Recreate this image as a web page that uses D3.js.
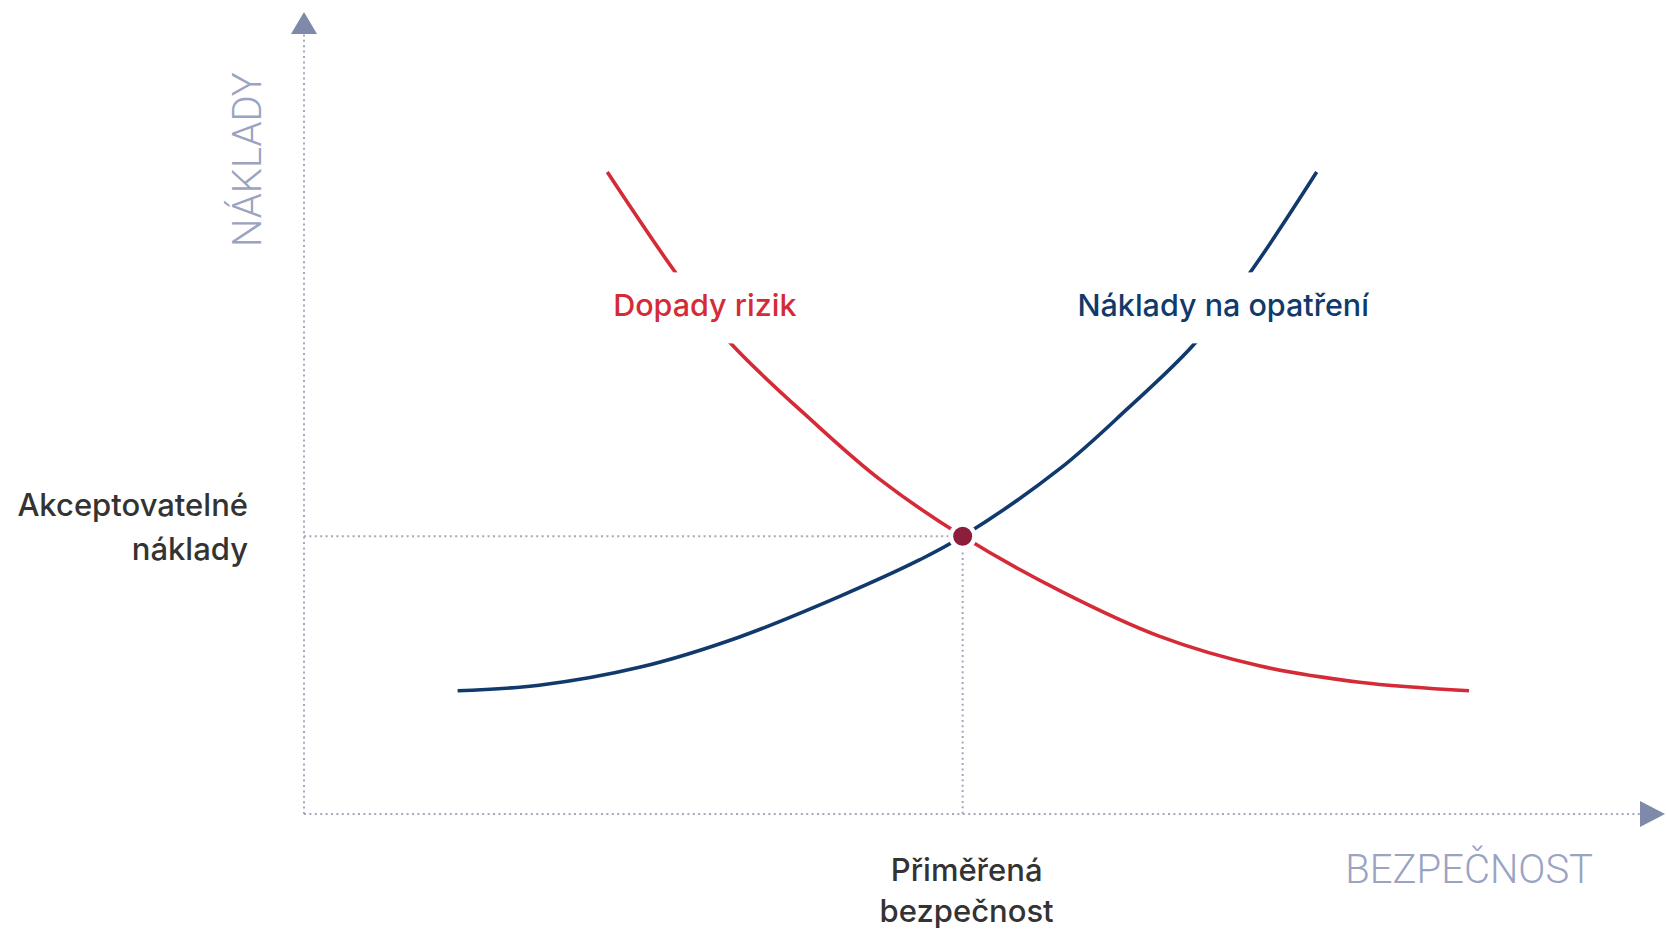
<!DOCTYPE html>
<html>
<head>
<meta charset="utf-8">
<script src="https://cdnjs.cloudflare.com/ajax/libs/d3/7.8.5/d3.min.js"></script>
<style>
  body { margin: 0; background: #fff; }
  svg { display: block; font-family: Inter, Roboto, "Noto Sans", sans-serif; }
</style>
</head>
<body>
<svg class="chart"></svg>
<script>
// curve samples (x = bezpečnost, y = náklady, both 0..100)
var costX = [11.5, 17.6, 25.1, 32.6, 40.1, 46.1, 49.3, 56.6, 61.6, 66.5, 70.6, 75.8];
var costY = [15.8, 16.5, 18.8, 22.7, 27.9, 32.6, 35.6, 44.3, 51.9, 60.0, 68.9, 82.3];

var riskX = [22.7, 27.9, 31.8, 38.1, 43.1, 49.3, 56.6, 64.0, 71.5, 79.0, 87.2];
var riskY = [82.3, 69.2, 60.6, 50.3, 42.9, 35.6, 28.6, 22.8, 19.0, 16.9, 15.8];

var seriesNames = ["Dopady rizik", "Náklady na opatření"];
var labelX = [30.0, 68.8];
var labelY = [63.8, 63.8];

var balance = [49.3, 35.6];
var axisTitles = ["BEZPEČNOST", "NÁKLADY"];
var xTickLabel = ["Přiměřená", "bezpečnost"];
var yTickLabel = ["Akceptovatelné", "náklady"];

function show() {
    'use strict';

    var width = 1666, height = 931;
    var margin = { top: 12, right: 1, bottom: 117, left: 304 };

    var chart = d3.select(".chart")
        .attr("width", width)
        .attr("height", height);

    var red = "#d42b37", blue = "#0f3a6b", axisCol = "#7f89a9", dotCol = "#a3a8ba";

    var x = d3.scaleLinear().domain([0, 100]).range([margin.left, 1640]);
    var y = d3.scaleLinear().domain([0, 100]).range([height - margin.bottom, 34]);

    var x0 = x(0), y0 = y(0);
    var xEnd = width - margin.right, yEnd = margin.top;

    // axes: dotted lines with arrow heads
    chart.append("line")
        .attr("x1", x0).attr("y1", y0).attr("x2", x0).attr("y2", yEnd + 20)
        .attr("stroke", dotCol).attr("stroke-width", 2)
        .attr("stroke-dasharray", "2,3.4");
    chart.append("line")
        .attr("x1", x0).attr("y1", y0).attr("x2", xEnd - 24).attr("y2", y0)
        .attr("stroke", dotCol).attr("stroke-width", 2)
        .attr("stroke-dasharray", "2,3.4");

    chart.append("path")
        .attr("d", "M" + (x0 - 13) + "," + (yEnd + 22) + "L" + x0 + "," + yEnd + "L" + (x0 + 13) + "," + (yEnd + 22) + "Z")
        .attr("fill", axisCol);
    chart.append("path")
        .attr("d", "M" + (xEnd - 25) + "," + (y0 - 13) + "L" + xEnd + "," + y0 + "L" + (xEnd - 25) + "," + (y0 + 13) + "Z")
        .attr("fill", axisCol);

    // guide lines to the balance point
    var px = x(balance[0]), py = y(balance[1]);
    chart.append("line")
        .attr("x1", x0).attr("y1", py).attr("x2", px).attr("y2", py)
        .attr("stroke", dotCol).attr("stroke-width", 2)
        .attr("stroke-dasharray", "2,3.4");
    chart.append("line")
        .attr("x1", px).attr("y1", py).attr("x2", px).attr("y2", y0)
        .attr("stroke", dotCol).attr("stroke-width", 2)
        .attr("stroke-dasharray", "2,3.4");

    // the two curves
    var line = d3.line()
        .x(d => x(d[0]))
        .y(d => y(d[1]))
        .curve(d3.curveCatmullRom.alpha(0.5));

    var series = [
        { name: seriesNames[0], color: red, pts: d3.zip(riskX, riskY), lx: labelX[0], ly: labelY[0] },
        { name: seriesNames[1], color: blue, pts: d3.zip(costX, costY), lx: labelX[1], ly: labelY[1] }
    ];

    chart.selectAll("path.curve").data(series)
      .enter().append("path")
        .attr("class", "curve")
        .attr("d", d => line(d.pts))
        .attr("fill", "none")
        .attr("stroke", d => d.color)
        .attr("stroke-width", 3.6);

    // labels sit on the curve, with a white gap around them
    var labels = chart.selectAll("g.lbl").data(series)
      .enter().append("g")
        .attr("class", "lbl");

    labels.append("rect").attr("fill", "#fff");

    labels.append("text")
        .attr("x", d => x(d.lx))
        .attr("y", d => y(d.ly))
        .attr("text-anchor", "middle")
        .attr("font-size", 30.5)
        .attr("font-weight", 500)
        .attr("fill", d => d.color)
        .text(d => d.name);

    labels.each(function () {
        var b = d3.select(this).select("text").node().getBBox();
        d3.select(this).select("rect")
            .attr("x", b.x - 6).attr("y", b.y - 14)
            .attr("width", b.width + 12).attr("height", b.height + 34);
    });

    // balance point
    chart.append("circle")
        .attr("cx", px).attr("cy", py)
        .attr("r", 14)
        .attr("fill", "#fff");
    chart.append("circle")
        .attr("cx", px).attr("cy", py)
        .attr("r", 9.5)
        .attr("fill", "#8c1d3b");

    // tick labels
    chart.append("text")
        .attr("text-anchor", "end")
        .attr("font-size", 31)
        .attr("font-weight", 500)
        .attr("fill", "#333")
        .selectAll("tspan").data(yTickLabel)
      .enter().append("tspan")
        .attr("x", x0 - 56)
        .attr("y", (d, i) => py - 20 + i * 44)
        .text(d => d);

    chart.append("text")
        .attr("text-anchor", "middle")
        .attr("font-size", 31)
        .attr("font-weight", 500)
        .attr("fill", "#333")
        .selectAll("tspan").data(xTickLabel)
      .enter().append("tspan")
        .attr("x", px + 4)
        .attr("y", (d, i) => y0 + 67 + i * 41)
        .text(d => d);

    // axis titles
    chart.append("text")
        .attr("x", 1593)
        .attr("y", y0 + 69)
        .attr("text-anchor", "end")
        .attr("font-family", "Roboto, sans-serif")
        .attr("font-size", 40)
        .attr("font-weight", 300)
        .attr("fill", "#9aa3c2")
        .text(axisTitles[0]);

    chart.append("text")
        .attr("transform", "translate(" + (x0 - 43) + "," + 247 + ") rotate(-90)")
        .attr("font-family", "Roboto, sans-serif")
        .attr("font-size", 40)
        .attr("font-weight", 300)
        .attr("fill", "#9aa3c2")
        .text(axisTitles[1]);
}

show();
</script>
</body>
</html>
